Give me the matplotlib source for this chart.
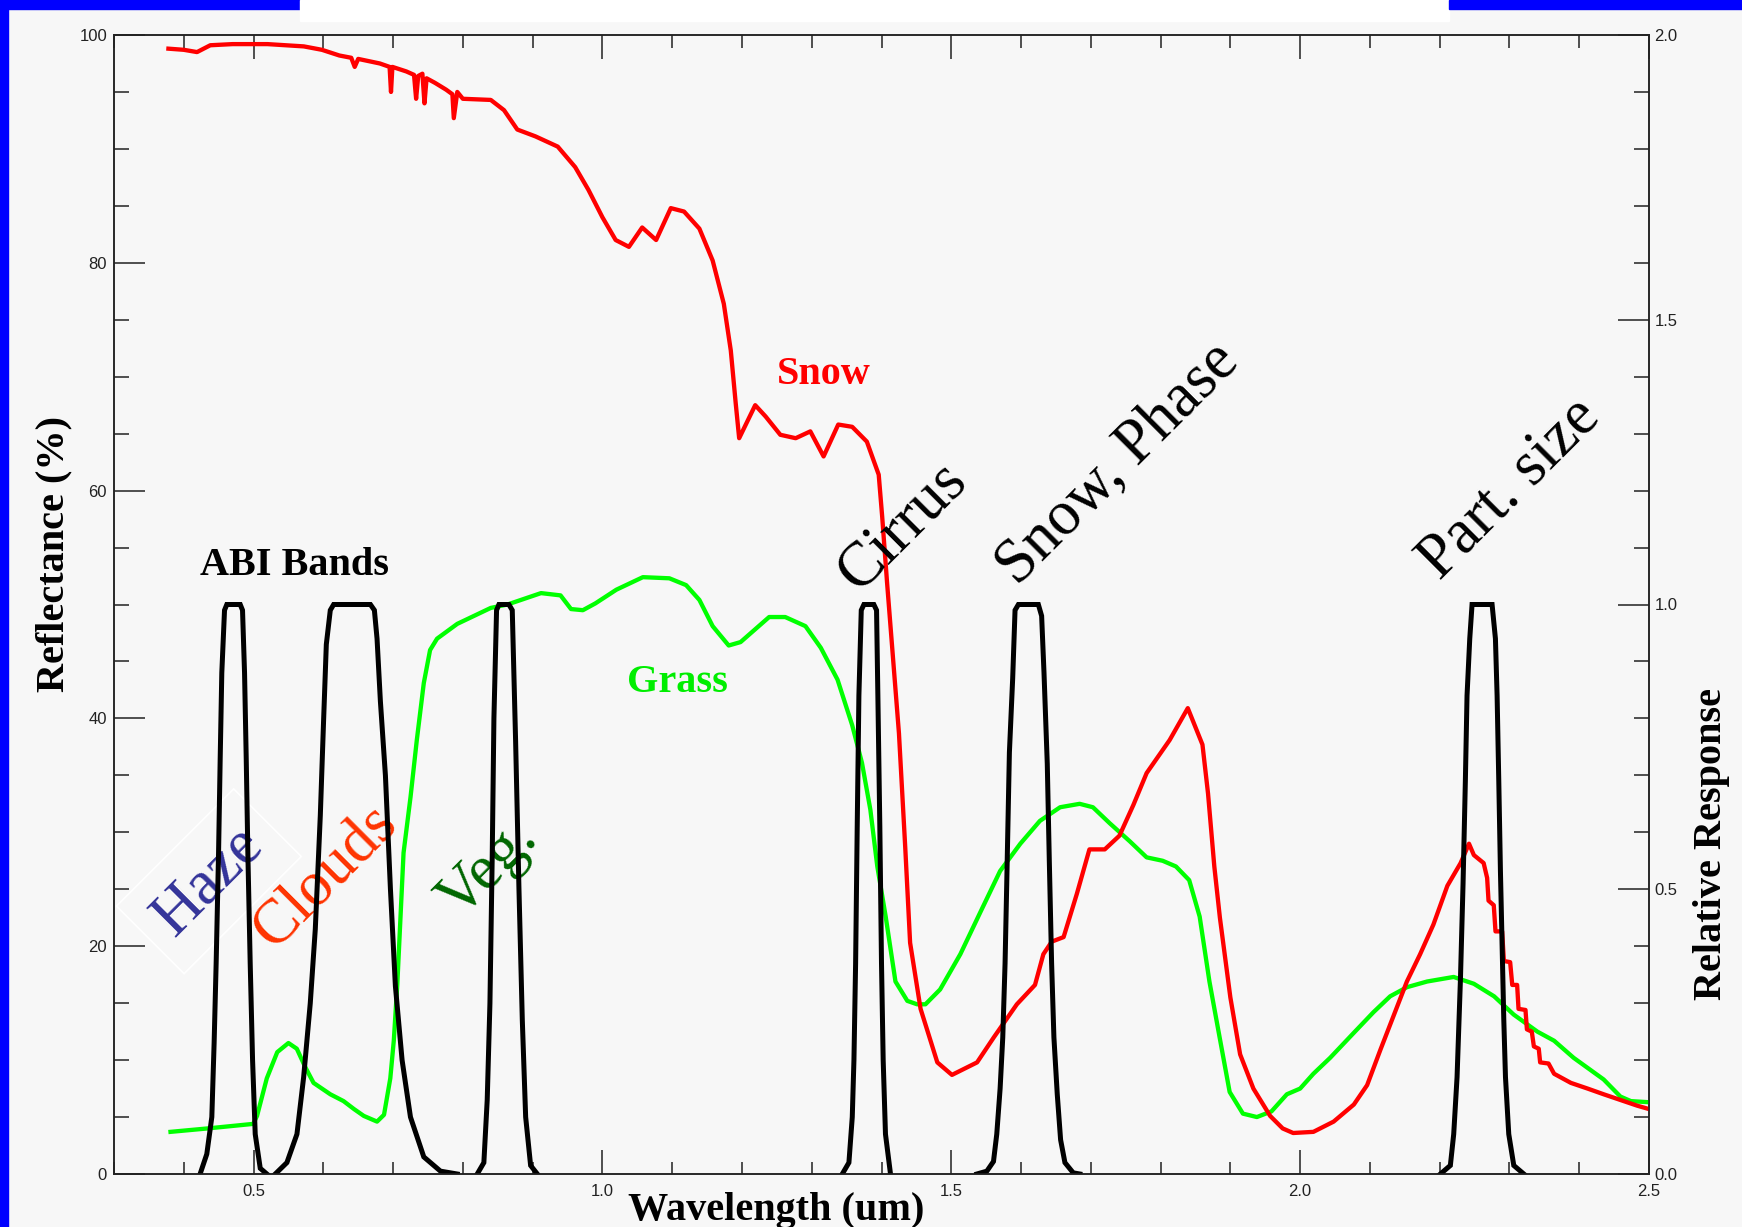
import matplotlib
matplotlib.use("Agg")
import matplotlib.pyplot as plt
from matplotlib.patches import Rectangle
from matplotlib.ticker import MultipleLocator, FixedLocator

# --- data ------------------------------------------------------------------
snow_wl = [0.378, 0.400, 0.419, 0.438, 0.470, 0.520, 0.572, 0.598, 0.623, 0.640,
           0.645, 0.650, 0.681, 0.695, 0.697, 0.699, 0.719, 0.730, 0.733, 0.736,
           0.742, 0.745, 0.748, 0.760, 0.776, 0.785, 0.787, 0.792, 0.800, 0.840,
           0.859, 0.878, 0.904, 0.936, 0.961, 0.980, 1.000, 1.019, 1.038, 1.057,
           1.077, 1.098, 1.117, 1.139, 1.158, 1.174, 1.184, 1.191, 1.196, 1.219,
           1.234, 1.255, 1.277, 1.298, 1.317, 1.338, 1.358, 1.379, 1.396, 1.401,
           1.408, 1.415, 1.425, 1.434, 1.441, 1.456, 1.480, 1.501, 1.537, 1.561,
           1.594, 1.620, 1.632, 1.644, 1.661, 1.680, 1.698, 1.720, 1.741, 1.761,
           1.780, 1.813, 1.839, 1.860, 1.868, 1.877, 1.885, 1.900, 1.914, 1.933,
           1.957, 1.975, 1.990, 2.019, 2.048, 2.077, 2.096, 2.115, 2.134, 2.153,
           2.172, 2.191, 2.211, 2.230, 2.242, 2.249, 2.263, 2.268, 2.270, 2.2775,
           2.280, 2.2895, 2.292, 2.301, 2.304, 2.311, 2.313, 2.323, 2.325, 2.332,
           2.335, 2.342, 2.344, 2.356, 2.364, 2.388, 2.412, 2.435, 2.459, 2.483,
           2.500]
snow_refl = [98.8, 98.7, 98.5, 99.1, 99.2, 99.2, 99.0, 98.7, 98.2, 98.0,
             97.2, 97.9, 97.5, 97.2, 95.0, 97.2, 96.8, 96.5, 94.4, 96.4,
             96.6, 94.0, 96.2, 95.8, 95.2, 94.8, 92.7, 95.0, 94.4, 94.3,
             93.4, 91.7, 91.1, 90.2, 88.4, 86.4, 84.0, 82.0, 81.4, 83.1,
             82.0, 84.8, 84.5, 83.0, 80.2, 76.4, 72.3, 67.7, 64.6, 67.5,
             66.5, 64.9, 64.6, 65.2, 63.0, 65.8, 65.6, 64.3, 61.4, 57.7,
             51.9, 46.5, 38.7, 28.7, 20.3, 14.5, 9.8, 8.7, 9.8, 12.0,
             14.9, 16.6, 19.3, 20.4, 20.8, 24.6, 28.5, 28.5, 29.7, 32.4,
             35.2, 38.1, 40.9, 37.7, 33.4, 27.0, 22.5, 15.5, 10.5, 7.5,
             5.1, 4.0, 3.6, 3.7, 4.6, 6.1, 7.8, 10.9, 13.9, 16.9,
             19.3, 21.9, 25.3, 27.3, 29.0, 28.0, 27.3, 26.0, 24.0, 23.6,
             21.3, 21.3, 18.7, 18.6, 16.6, 16.6, 14.5, 14.4, 12.7, 12.5,
             11.2, 11.0, 9.8, 9.7, 8.8, 8.0, 7.5, 7.0, 6.5, 6.0,
             5.7]

grass_wl = [0.381, 0.434, 0.4995, 0.505, 0.519, 0.534, 0.550, 0.562, 0.574, 0.586,
            0.610, 0.629, 0.644, 0.658, 0.677, 0.687, 0.696, 0.701, 0.706, 0.715,
            0.725, 0.734, 0.744, 0.753, 0.763, 0.792, 0.840, 0.864, 0.912, 0.940,
            0.955, 0.972, 0.990, 1.020, 1.058, 1.096, 1.120, 1.139, 1.158, 1.181,
            1.198, 1.239, 1.262, 1.291, 1.313, 1.337, 1.358, 1.372, 1.384, 1.394,
            1.406, 1.420, 1.437, 1.451, 1.463, 1.484, 1.513, 1.541, 1.570, 1.599,
            1.627, 1.656, 1.684, 1.703, 1.727, 1.756, 1.780, 1.803, 1.822, 1.841,
            1.856, 1.870, 1.884, 1.899, 1.918, 1.938, 1.959, 1.981, 2.000, 2.019,
            2.043, 2.077, 2.105, 2.129, 2.153, 2.182, 2.220, 2.249, 2.278, 2.306,
            2.340, 2.364, 2.392, 2.435, 2.459, 2.474, 2.500]
grass_refl = [3.7, 4.0, 4.4, 5.1, 8.4, 10.7, 11.5, 11.0, 9.4, 8.0,
              7.0, 6.4, 5.7, 5.1, 4.6, 5.2, 8.4, 11.7, 16.6, 28.2,
              33.1, 38.1, 43.1, 46.0, 47.0, 48.3, 49.7, 50.0, 51.0, 50.8,
              49.6, 49.5, 50.1, 51.3, 52.4, 52.3, 51.7, 50.4, 48.1, 46.4,
              46.7, 48.9, 48.9, 48.1, 46.2, 43.4, 39.4, 36.1, 32.0, 27.0,
              22.6, 16.9, 15.2, 14.9, 14.9, 16.2, 19.3, 22.9, 26.6, 29.0,
              31.0, 32.2, 32.5, 32.2, 30.8, 29.2, 27.8, 27.5, 27.0, 25.8,
              22.6, 16.9, 12.2, 7.2, 5.3, 5.0, 5.5, 7.0, 7.5, 8.8,
              10.2, 12.4, 14.2, 15.6, 16.4, 16.9, 17.3, 16.7, 15.6, 14.0,
              12.5, 11.7, 10.2, 8.3, 6.8, 6.4, 6.3]

# ABI band relative spectral responses
b1_wl = [0.4234, 0.433, 0.4402, 0.4435, 0.4464, 0.4498, 0.4522, 0.4545, 0.4584, 0.4617,
         0.4809, 0.4842, 0.4871, 0.4895, 0.4919, 0.4952, 0.4986, 0.5024, 0.5096, 0.5191]
b1_rr = [0.0, 0.035, 0.10, 0.23, 0.37, 0.56, 0.73, 0.88, 0.99, 1.0,
         1.0, 0.99, 0.88, 0.73, 0.56, 0.37, 0.20, 0.07, 0.01, 0.0]
b2_wl = [0.5311, 0.5478, 0.5622, 0.5718, 0.5813, 0.5885, 0.5957, 0.6005, 0.6043, 0.6100,
         0.6148, 0.6675, 0.6732, 0.6770, 0.6818, 0.6890, 0.6962, 0.7033, 0.7129, 0.7249,
         0.7440, 0.7679, 0.7919]
b2_rr = [0.0, 0.02, 0.07, 0.17, 0.30, 0.43, 0.63, 0.80, 0.93, 0.99,
         1.0, 1.0, 0.99, 0.94, 0.83, 0.70, 0.50, 0.33, 0.20, 0.10,
         0.03, 0.005, 0.0]
b3_wl = [0.8206, 0.8301, 0.8349, 0.8388, 0.8421, 0.8445, 0.8483, 0.8517, 0.8660, 0.8708,
         0.8756, 0.8804, 0.8852, 0.8900, 0.8971, 0.9067]
b3_rr = [0.0, 0.02, 0.13, 0.30, 0.56, 0.80, 0.99, 1.0, 1.0, 0.99,
         0.76, 0.50, 0.27, 0.10, 0.015, 0.0]
b4_wl = [1.3438, 1.3533, 1.3581, 1.3605, 1.3629, 1.3652, 1.3676, 1.3710, 1.3748, 1.3890,
         1.3929, 1.3948, 1.3976, 1.4000, 1.4024, 1.4057, 1.4129]
b4_rr = [0.0, 0.02, 0.10, 0.20, 0.37, 0.61, 0.84, 0.99, 1.0, 1.0,
         0.99, 0.84, 0.61, 0.37, 0.20, 0.07, 0.0]
b5_wl = [1.5367, 1.5510, 1.5605, 1.5652, 1.5700, 1.5738, 1.5771, 1.5795, 1.5833, 1.5880,
         1.5914, 1.5962, 1.6248, 1.6295, 1.6329, 1.6376, 1.6405, 1.6438, 1.6471, 1.6519,
         1.6567, 1.6629, 1.6748, 1.6843]
b5_rr = [0.0, 0.005, 0.022, 0.07, 0.15, 0.24, 0.37, 0.51, 0.74, 0.87,
         0.99, 1.0, 1.0, 0.98, 0.88, 0.72, 0.55, 0.37, 0.24, 0.14,
         0.06, 0.02, 0.002, 0.0]
b6_wl = [2.2010, 2.2153, 2.2201, 2.2249, 2.2297, 2.2335, 2.2368, 2.2392, 2.2431, 2.2464,
         2.2751, 2.2799, 2.2823, 2.2847, 2.2871, 2.2895, 2.2919, 2.2943, 2.2990, 2.3062,
         2.3206]
b6_rr = [0.0, 0.015, 0.07, 0.17, 0.34, 0.51, 0.69, 0.84, 0.94, 1.0,
         1.0, 0.94, 0.84, 0.69, 0.53, 0.40, 0.27, 0.17, 0.07, 0.015,
         0.0]
bands = [(b1_wl, b1_rr), (b2_wl, b2_rr), (b3_wl, b3_rr),
         (b4_wl, b4_rr), (b5_wl, b5_rr), (b6_wl, b6_rr)]

x_ticks = [0.5, 1.0, 1.5, 2.0, 2.5]
x_ticklabels = ["0.5", "1.0", "1.5", "2.0", "2.5"]
y_ticks = [0, 20, 40, 60, 80, 100]
y_ticklabels = ["0", "20", "40", "60", "80", "100"]
r_ticks = [0.0, 0.5, 1.0, 1.5, 2.0]
r_ticklabels = ["0.0", "0.5", "1.0", "1.5", "2.0"]

# --- figure -----------------------------------------------------------------
BG = "#f7f7f7"
INK = "#222222"
SERIF = ["Liberation Serif", "DejaVu Serif"]
W, H = 1742, 1227

fig = plt.figure(figsize=(W / 100, H / 100), dpi=100, facecolor=BG)
ax = fig.add_axes([114 / W, 1 - 1174 / H, (1649 - 114) / W, (1174 - 35) / H])
ax.set_facecolor(BG)
ax.set_xlim(0.3, 2.5)
ax.set_ylim(0, 100)
ax2 = ax.twinx()
ax2.set_ylim(0, 2)

ax.plot(grass_wl, grass_refl, color="#00ff00", lw=3.1, zorder=3)
ax.plot(snow_wl, snow_refl, color="#ff0000", lw=3.1, zorder=4)
for wl, rr in bands:
    ax2.plot(wl, rr, color="black", lw=3.6, solid_joinstyle="miter")

# ticks
ax.xaxis.set_major_locator(FixedLocator(x_ticks))
ax.set_xticklabels(x_ticklabels)
ax.xaxis.set_minor_locator(MultipleLocator(0.1))
ax.yaxis.set_major_locator(FixedLocator(y_ticks))
ax.set_yticklabels(y_ticklabels)
ax.yaxis.set_minor_locator(MultipleLocator(5))
ax2.yaxis.set_major_locator(FixedLocator(r_ticks))
ax2.set_yticklabels(r_ticklabels)
ax2.yaxis.set_minor_locator(MultipleLocator(0.1))

tick_font = dict(labelsize=12, labelcolor=INK, color=INK, width=1.1)
ax.tick_params(axis="x", which="major", direction="in", length=17, top=True, pad=7, **tick_font)
ax.tick_params(axis="x", which="minor", direction="in", length=9, top=True, color=INK, width=1.1)
ax.tick_params(axis="y", which="major", direction="in", length=22, left=True, right=False, pad=5, **tick_font)
ax.tick_params(axis="y", which="minor", direction="in", length=11, right=False, color=INK, width=1.1)
ax2.tick_params(axis="y", which="major", direction="in", length=22, pad=4, **tick_font)
ax2.tick_params(axis="y", which="minor", direction="in", length=11, color=INK, width=1.1)
for a in (ax, ax2):
    for lab in a.get_xticklabels() + a.get_yticklabels():
        lab.set_fontfamily(["Liberation Sans", "DejaVu Sans"])
    for s in a.spines.values():
        s.set_color(INK)
        s.set_linewidth(1.1)

# axis titles
ax.set_xlabel("Wavelength (um)", fontsize=29, fontweight="bold", family=SERIF, va="baseline")
ax.xaxis.set_label_coords(0.4313, -0.0404)
ax.set_ylabel("Reflectance (%)", fontsize=29, fontweight="bold", family=SERIF, va="center", ha="center")
ax.yaxis.set_label_coords(-0.0391, 0.5443)
ax2.set_ylabel("Relative Response", fontsize=29, fontweight="bold", family=SERIF,
               rotation=90, va="center", ha="center")
ax2.yaxis.set_label_coords(1.0404, 0.2897)

# curve labels
ax.text(1.318, 69.4, "Snow", color="#ff0000", fontsize=29, fontweight="bold", family=SERIF,
        ha="center", va="baseline", zorder=6)
ax.text(1.107, 42.3, "Grass", color="#00ee00", fontsize=29, fontweight="bold", family=SERIF,
        ha="center", va="baseline", zorder=6)
ax.text(0.559, 52.6, "ABI Bands", color="black", fontsize=29, fontweight="bold", family=SERIF,
        ha="center", va="baseline", zorder=6)

# band purpose labels, rotated
rot = dict(rotation=45, ha="center", va="center", fontsize=45, family=SERIF, zorder=6)
ax.text(0.436, 25.7, "Haze", color="#333399",
        bbox=dict(boxstyle="square,pad=0.3", fc="none", ec="white", lw=1.2), **rot)
ax.text(0.604, 26.0, "Clouds", color="#ff3300", **rot)
ax.text(0.837, 26.7, "Veg.", color="#006600", **rot)
ax.text(1.430, 56.8, "Cirrus", color="black", **rot)
ax.text(1.739, 62.3, "Snow, Phase", color="black", **rot)
ax.text(2.301, 60.1, "Part. size", color="black", **rot)

# slide frame: blue border strips and white title box
fig.patches.append(Rectangle((0, 0), 8 / W, 1, transform=fig.transFigure, color="#0000ff", zorder=10))
fig.patches.append(Rectangle((0, 1 - 9 / H), 300 / W, 9 / H, transform=fig.transFigure, color="#0000ff", zorder=10))
fig.patches.append(Rectangle((300 / W, 1 - 21 / H), 1149 / W, 21 / H, transform=fig.transFigure, color="white", zorder=10))
fig.patches.append(Rectangle((1449 / W, 1 - 9 / H), 293 / W, 9 / H, transform=fig.transFigure, color="#0000ff", zorder=10))

fig.savefig("out.png", dpi=100, facecolor=BG)
